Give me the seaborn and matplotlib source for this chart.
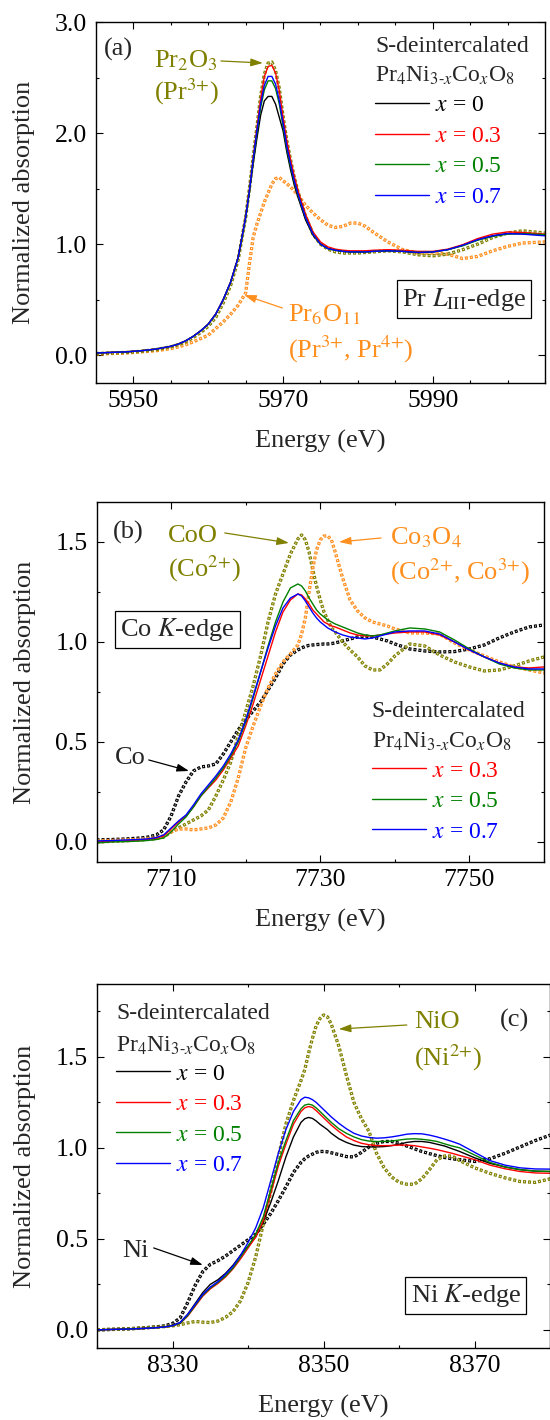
import numpy as np
import pandas as pd
import seaborn as sns
import matplotlib.pyplot as plt
from matplotlib.ticker import MultipleLocator, FormatStrFormatter

# ---------------- data ----------------
# (a) Pr L_III-edge
E_PR = [5945, 5947, 5949, 5951, 5953, 5955, 5956, 5957, 5958, 5959,
        5960, 5961, 5962, 5963, 5964, 5965, 5965.5, 5966, 5966.5, 5967,
        5967.5, 5968, 5968.5, 5969, 5969.5, 5970, 5970.5, 5971, 5971.5, 5972,
        5973, 5974, 5975, 5976, 5977, 5978, 5979, 5980, 5981, 5982,
        5984, 5986, 5988, 5990, 5992, 5994, 5996, 5998, 6000, 6002,
        6005]
PR_X0 = [0.02, 0.025, 0.03, 0.04, 0.055, 0.08, 0.10, 0.13, 0.17, 0.22,
         0.28, 0.37, 0.50, 0.66, 0.88, 1.24, 1.47, 1.72, 1.95, 2.16,
         2.29, 2.33, 2.33, 2.26, 2.14, 2.02, 1.83, 1.67, 1.53, 1.42,
         1.22, 1.08, 1.00, 0.96, 0.945, 0.935, 0.93, 0.93, 0.93, 0.935,
         0.94, 0.935, 0.925, 0.93, 0.95, 0.99, 1.04, 1.075, 1.095, 1.095,
         1.08]
PR_X03 = [0.02, 0.025, 0.03, 0.04, 0.055, 0.08, 0.10, 0.13, 0.17, 0.22,
          0.28, 0.37, 0.50, 0.66, 0.88, 1.25, 1.49, 1.77, 2.04, 2.31,
          2.51, 2.60, 2.61, 2.54, 2.38, 2.14, 1.93, 1.76, 1.61, 1.48,
          1.27, 1.11, 1.02, 0.975, 0.955, 0.945, 0.94, 0.94, 0.94, 0.945,
          0.95, 0.945, 0.935, 0.935, 0.955, 0.995, 1.05, 1.09, 1.11, 1.105,
          1.09]
PR_X05 = [0.02, 0.025, 0.03, 0.04, 0.055, 0.08, 0.10, 0.13, 0.17, 0.22,
          0.28, 0.37, 0.50, 0.66, 0.88, 1.24, 1.48, 1.75, 2.00, 2.23,
          2.39, 2.47, 2.47, 2.40, 2.26, 2.06, 1.86, 1.70, 1.56, 1.44,
          1.24, 1.09, 1.00, 0.96, 0.945, 0.935, 0.93, 0.93, 0.93, 0.935,
          0.94, 0.935, 0.925, 0.93, 0.95, 0.985, 1.035, 1.07, 1.09, 1.095,
          1.085]
PR_X07 = [0.02, 0.025, 0.03, 0.04, 0.055, 0.08, 0.10, 0.13, 0.17, 0.22,
          0.28, 0.37, 0.50, 0.66, 0.88, 1.24, 1.48, 1.76, 2.02, 2.26,
          2.43, 2.51, 2.51, 2.44, 2.29, 2.09, 1.88, 1.72, 1.57, 1.45,
          1.24, 1.09, 1.00, 0.96, 0.945, 0.935, 0.93, 0.93, 0.93, 0.935,
          0.94, 0.935, 0.925, 0.93, 0.95, 0.99, 1.04, 1.075, 1.095, 1.09,
          1.075]
PR2O3 = [0.015, 0.02, 0.025, 0.035, 0.05, 0.075, 0.095, 0.12, 0.16, 0.205,
         0.26, 0.34, 0.47, 0.63, 0.86, 1.24, 1.50, 1.78, 2.05, 2.33,
         2.53, 2.63, 2.64, 2.56, 2.40, 2.15, 1.93, 1.76, 1.60, 1.47,
         1.25, 1.09, 1.00, 0.955, 0.93, 0.92, 0.92, 0.92, 0.925, 0.93,
         0.94, 0.93, 0.905, 0.895, 0.91, 0.95, 1.00, 1.06, 1.10, 1.12,
         1.10]
PR6O11 = [0.01, 0.015, 0.02, 0.03, 0.04, 0.06, 0.075, 0.095, 0.12, 0.15,
          0.18, 0.24, 0.30, 0.37, 0.45, 0.56, 0.82, 1.06, 1.18, 1.28,
          1.38, 1.46, 1.54, 1.59, 1.60, 1.57, 1.545, 1.515, 1.48, 1.44,
          1.35, 1.28, 1.22, 1.17, 1.15, 1.16, 1.19, 1.19, 1.16, 1.11,
          1.02, 0.95, 0.92, 0.92, 0.91, 0.87, 0.89, 0.94, 0.98, 1.01,
          1.02]

# (b) Co K-edge
E_CO = [7700, 7702, 7704, 7706, 7707, 7708, 7709, 7710, 7711, 7712,
        7713, 7714, 7715, 7716, 7717, 7718, 7719, 7720, 7721, 7722,
        7723, 7724, 7725, 7726, 7727, 7727.5, 7728, 7728.5, 7729, 7729.5,
        7730, 7730.5, 7731, 7731.5, 7732, 7733, 7734, 7735, 7736, 7737,
        7738, 7739, 7740, 7742, 7744, 7746, 7748, 7750, 7752, 7754,
        7756, 7758, 7760]
CO_METAL = [0.01, 0.012, 0.015, 0.02, 0.025, 0.035, 0.06, 0.13, 0.23, 0.30,
            0.355, 0.375, 0.38, 0.39, 0.44, 0.50, 0.56, 0.61, 0.655, 0.70,
            0.76, 0.82, 0.89, 0.935, 0.96, 0.97, 0.978, 0.983, 0.985, 0.987,
            0.988, 0.99, 0.99, 0.992, 0.995, 1.005, 1.015, 1.025, 1.03, 1.025,
            1.015, 1.005, 0.99, 0.965, 0.955, 0.95, 0.952, 0.965, 0.985, 1.02,
            1.05, 1.075, 1.085]
COO = [0.0, 0.003, 0.006, 0.01, 0.013, 0.017, 0.025, 0.05, 0.07, 0.09,
       0.11, 0.13, 0.16, 0.23, 0.31, 0.40, 0.53, 0.65, 0.78, 0.93,
       1.10, 1.24, 1.34, 1.44, 1.515, 1.535, 1.51, 1.45, 1.36, 1.28,
       1.21, 1.15, 1.11, 1.07, 1.05, 1.00, 0.96, 0.925, 0.88, 0.86,
       0.86, 0.89, 0.93, 0.99, 0.98, 0.935, 0.90, 0.875, 0.855, 0.86,
       0.88, 0.905, 0.925]
CO3O4 = [0.005, 0.007, 0.01, 0.013, 0.016, 0.02, 0.03, 0.05, 0.065, 0.065,
         0.06, 0.065, 0.07, 0.085, 0.12, 0.20, 0.32, 0.47, 0.58, 0.68,
         0.77, 0.84, 0.90, 0.94, 0.985, 1.04, 1.12, 1.25, 1.37, 1.46,
         1.51, 1.53, 1.53, 1.51, 1.45, 1.32, 1.21, 1.155, 1.12, 1.10,
         1.09, 1.08, 1.065, 1.045, 1.045, 1.04, 0.995, 0.96, 0.93, 0.90,
         0.875, 0.86, 0.845]
CO_X03 = [0.0, 0.003, 0.006, 0.01, 0.013, 0.018, 0.03, 0.065, 0.10, 0.13,
          0.175, 0.23, 0.27, 0.31, 0.36, 0.42, 0.48, 0.58, 0.69, 0.81,
          0.93, 1.05, 1.15, 1.21, 1.24, 1.235, 1.215, 1.19, 1.16, 1.14,
          1.12, 1.10, 1.09, 1.08, 1.075, 1.06, 1.045, 1.035, 1.03, 1.03,
          1.035, 1.04, 1.045, 1.05, 1.05, 1.035, 1.0, 0.96, 0.925, 0.895,
          0.875, 0.87, 0.875]
CO_X05 = [-0.005, 0.0, 0.002, 0.005, 0.008, 0.012, 0.02, 0.05, 0.09, 0.125,
          0.175, 0.23, 0.275, 0.32, 0.37, 0.43, 0.50, 0.60, 0.72, 0.85,
          0.98, 1.10, 1.20, 1.27, 1.29, 1.28, 1.255, 1.22, 1.19, 1.16,
          1.14, 1.125, 1.11, 1.10, 1.09, 1.075, 1.06, 1.045, 1.035, 1.03,
          1.035, 1.045, 1.055, 1.07, 1.065, 1.05, 1.01, 0.965, 0.925, 0.89,
          0.87, 0.86, 0.86]
CO_X07 = [0.005, 0.007, 0.01, 0.013, 0.016, 0.022, 0.035, 0.07, 0.105, 0.135,
          0.185, 0.24, 0.285, 0.33, 0.38, 0.44, 0.51, 0.61, 0.73, 0.85,
          0.97, 1.08, 1.17, 1.22, 1.24, 1.23, 1.205, 1.175, 1.145, 1.12,
          1.10, 1.085, 1.07, 1.06, 1.05, 1.035, 1.025, 1.02, 1.015, 1.02,
          1.03, 1.04, 1.05, 1.055, 1.055, 1.04, 1.0, 0.96, 0.925, 0.895,
          0.875, 0.865, 0.865]

# (c) Ni K-edge
E_NI = [8320, 8322, 8324, 8326, 8328, 8329, 8330, 8331, 8332, 8333,
        8334, 8335, 8336, 8337, 8338, 8339, 8340, 8341, 8342, 8343,
        8344, 8345, 8346, 8347, 8347.5, 8348, 8348.5, 8349, 8349.5, 8350,
        8350.5, 8351, 8352, 8353, 8354, 8355, 8356, 8357, 8358, 8359,
        8360, 8361, 8362, 8363, 8364, 8365, 8366, 8367, 8368, 8370,
        8372, 8374, 8376, 8378, 8380]
NI_METAL = [0.0, 0.002, 0.005, 0.01, 0.017, 0.022, 0.035, 0.065, 0.15, 0.245,
            0.32, 0.36, 0.38, 0.405, 0.435, 0.465, 0.495, 0.525, 0.58, 0.64,
            0.71, 0.785, 0.865, 0.92, 0.94, 0.955, 0.965, 0.975, 0.98, 0.98,
            0.978, 0.973, 0.963, 0.952, 0.95, 0.975, 1.005, 1.025, 1.035, 1.035,
            1.025, 1.01, 0.995, 0.98, 0.968, 0.957, 0.947, 0.94, 0.935, 0.925,
            0.94, 0.97, 1.005, 1.04, 1.07]
NIO = [0.0, 0.003, 0.005, 0.01, 0.015, 0.018, 0.022, 0.028, 0.038, 0.046,
       0.042, 0.04, 0.048, 0.068, 0.10, 0.16, 0.26, 0.40, 0.58, 0.76,
       0.95, 1.13, 1.26, 1.37, 1.43, 1.52, 1.60, 1.67, 1.71, 1.73,
       1.72, 1.68, 1.56, 1.40, 1.25, 1.16, 1.09, 0.97, 0.89, 0.84,
       0.81, 0.80, 0.80, 0.83, 0.88, 0.935, 0.955, 0.955, 0.93, 0.89,
       0.86, 0.835, 0.815, 0.81, 0.83]
NI_X0 = [0.0, 0.002, 0.005, 0.008, 0.013, 0.017, 0.025, 0.04, 0.085, 0.145,
         0.205, 0.25, 0.275, 0.31, 0.355, 0.41, 0.46, 0.51, 0.595, 0.70,
         0.82, 0.95, 1.06, 1.14, 1.16, 1.167, 1.162, 1.148, 1.13, 1.115,
         1.10, 1.08, 1.05, 1.03, 1.015, 1.007, 1.005, 1.005, 1.007, 1.012,
         1.02, 1.03, 1.035, 1.035, 1.03, 1.02, 1.01, 0.995, 0.98, 0.945,
         0.915, 0.895, 0.88, 0.872, 0.87]
NI_X03 = [0.0, 0.002, 0.004, 0.007, 0.012, 0.016, 0.022, 0.035, 0.075, 0.13,
          0.185, 0.225, 0.255, 0.29, 0.335, 0.39, 0.45, 0.51, 0.60, 0.75,
          0.90, 1.02, 1.13, 1.20, 1.22, 1.227, 1.222, 1.205, 1.185, 1.165,
          1.145, 1.125, 1.09, 1.06, 1.04, 1.025, 1.017, 1.012, 1.012, 1.013,
          1.015, 1.015, 1.012, 1.005, 0.998, 0.99, 0.98, 0.97, 0.958, 0.935,
          0.905, 0.885, 0.87, 0.862, 0.86]
NI_X05 = [0.0, 0.002, 0.004, 0.007, 0.012, 0.016, 0.022, 0.036, 0.078, 0.135,
          0.19, 0.23, 0.26, 0.295, 0.34, 0.40, 0.46, 0.525, 0.62, 0.77,
          0.92, 1.04, 1.15, 1.215, 1.235, 1.24, 1.235, 1.22, 1.20, 1.18,
          1.16, 1.14, 1.105, 1.08, 1.06, 1.045, 1.037, 1.035, 1.035, 1.037,
          1.043, 1.048, 1.05, 1.047, 1.042, 1.035, 1.022, 1.01, 1.0, 0.96,
          0.92, 0.895, 0.88, 0.872, 0.87]
NI_X07 = [0.0, 0.002, 0.004, 0.007, 0.012, 0.016, 0.023, 0.04, 0.085, 0.14,
          0.195, 0.235, 0.265, 0.305, 0.35, 0.41, 0.48, 0.56, 0.67, 0.82,
          0.97, 1.10, 1.20, 1.265, 1.278, 1.275, 1.265, 1.25, 1.23, 1.21,
          1.19, 1.17, 1.135, 1.105, 1.08, 1.065, 1.057, 1.053, 1.055, 1.06,
          1.067, 1.075, 1.078, 1.077, 1.07, 1.06, 1.048, 1.035, 1.02, 0.975,
          0.93, 0.905, 0.89, 0.884, 0.883]

X_LABELS = [r'$x$ = 0', r'$x$ = 0.3', r'$x$ = 0.5', r'$x$ = 0.7']
FORMULA = r'Pr$_4$Ni$_{3\text{-}x}$Co$_x$O$_8$'

BLACK, RED, GREEN, BLUE = '#000000', '#ff0000', '#008000', '#0000ff'
OLIVE, ORANGE = '#808000', '#ff8f1f'

# ---------------- style ----------------
sns.set_style('ticks')
plt.rcParams['font.family'] = ['Liberation Serif', 'DejaVu Serif']
plt.rcParams['mathtext.fontset'] = 'stix'
plt.rcParams.update({
    'xtick.direction': 'in', 'ytick.direction': 'in',
    'xtick.top': True, 'ytick.right': True,
    'xtick.major.size': 5, 'ytick.major.size': 5,
    'xtick.minor.size': 2.5, 'ytick.minor.size': 2.5,
    'xtick.major.width': 0.8, 'ytick.major.width': 0.8,
    'xtick.minor.width': 0.8, 'ytick.minor.width': 0.8,
    'xtick.major.pad': 5, 'ytick.major.pad': 6.5,
    'xtick.labelsize': 18.5, 'ytick.labelsize': 18.5,
    'axes.linewidth': 1.0, 'axes.edgecolor': 'black',
    'xtick.color': 'black', 'ytick.color': 'black',
})

fig = plt.figure(figsize=(5.5, 14.2), dpi=100)
ax_a = fig.add_axes([0.1745, 0.7303, 0.8164, 0.2542])
ax_b = fig.add_axes([0.1755, 0.3930, 0.8136, 0.2535])
ax_c = fig.add_axes([0.1764, 0.0507, 0.8242, 0.2563])

LW_REF = 2.4
ON, OFF = 0.9, 0.6


def ref_curve(ax, e, v, color):
    # dense open squares: coloured dotted band with a white core
    sns.lineplot(x=e, y=v, ax=ax, color=color, lw=LW_REF, sort=False,
                 estimator=None, linestyle=(0, (ON, OFF)))
    wl = 0.7
    period = (ON + OFF) * LW_REF
    core = 0.7
    start = (ON * LW_REF - core) / 2
    sns.lineplot(x=e, y=v, ax=ax, color='white', lw=wl, sort=False,
                 estimator=None,
                 linestyle=((period - start) / wl, (core / wl, (period - core) / wl)))


def sample_curves(ax, e, series, colors):
    handles = []
    for v, c in zip(series, colors):
        sns.lineplot(x=e, y=v, ax=ax, color=c, lw=1.0, sort=False, estimator=None)
        handles.append(ax.lines[-1])
    return handles


def arrow(ax, tail, head, color):
    ax.annotate('', xy=head, xytext=tail,
                arrowprops=dict(arrowstyle='-|>,head_length=0.4,head_width=0.13',
                                color=color, lw=0.9, shrinkA=0, shrinkB=0,
                                mutation_scale=18))


def boxed(ax, x, y, s):
    ax.text(x, y, s, ha='center', va='center', fontsize=19,
            bbox=dict(boxstyle='square,pad=0.2', fc='white', ec='black', lw=0.9))


def legend_block(ax, handles, labels, hx, hy1, hy2, lx, ly):
    ax.text(hx, hy1, 'S-deintercalated', fontsize=17, ha='left', va='baseline')
    ax.text(hx, hy2, FORMULA, fontsize=17, ha='left', va='baseline')
    ax.legend(handles, labels, loc='upper left', bbox_to_anchor=(lx, ly),
              frameon=False, fontsize=17, handlelength=2.3, handletextpad=0.25,
              labelspacing=0.38, borderpad=0, borderaxespad=0,
              labelcolor='linecolor')


def frame(ax, xlim, ylim, xt, xminor, ymajor, yminor):
    ax.set_xlim(*xlim)
    ax.set_ylim(*ylim)
    ax.set_xticks(xt)
    ax.xaxis.set_minor_locator(MultipleLocator(xminor))
    ax.yaxis.set_major_locator(MultipleLocator(ymajor))
    ax.yaxis.set_minor_locator(MultipleLocator(yminor))
    ax.yaxis.set_major_formatter(FormatStrFormatter('%.1f'))
    ax.tick_params(which='both', top=True, right=True, direction='in')
    ax.set_xlabel('Energy (eV)', fontsize=19)
    ax.set_ylabel('Normalized absorption', fontsize=19)
    ax.xaxis.set_label_coords(0.5, -0.13)
    ax.yaxis.set_label_coords(-0.135, 0.5)


# ---------------- (a) Pr L_III ----------------
ref_curve(ax_a, E_PR, PR6O11, ORANGE)
ref_curve(ax_a, E_PR, PR2O3, OLIVE)
h = sample_curves(ax_a, E_PR, [PR_X0, PR_X03, PR_X05, PR_X07],
                  [BLACK, RED, GREEN, BLUE])
frame(ax_a, (5945, 6005), (-0.25, 3.0), [5950, 5970, 5990], 5, 1.0, 0.5)
ax_a.text(5946.1, 2.70, '(a)', fontsize=19, ha='left', va='baseline')
ax_a.text(5952.75, 2.595, r'Pr$_2$O$_3$', color=OLIVE, fontsize=19, va='baseline')
ax_a.text(5952.75, 2.30, r'(Pr$^{3\text{+}}$)', color=OLIVE, fontsize=19, va='baseline')
arrow(ax_a, (5961.7, 2.649), (5967.3, 2.631), OLIVE)
ax_a.text(5970.7, 0.30, r'Pr$_6$O$_{11}$', color=ORANGE, fontsize=19, va='baseline')
ax_a.text(5970.7, -0.02, r'(Pr$^{3\text{+}}$, Pr$^{4\text{+}}$)', color=ORANGE,
          fontsize=19, va='baseline')
arrow(ax_a, (5969.9, 0.425), (5964.8, 0.542), ORANGE)
boxed(ax_a, 5994.2, 0.506, r'Pr $L_{\mathrm{III}}$-edge')
legend_block(ax_a, h, X_LABELS, 5982.3, 2.73, 2.46, 0.621, 0.798)

# ---------------- (b) Co K ----------------
ref_curve(ax_b, E_CO, CO_METAL, BLACK)
ref_curve(ax_b, E_CO, COO, OLIVE)
ref_curve(ax_b, E_CO, CO3O4, ORANGE)
h = sample_curves(ax_b, E_CO, [CO_X03, CO_X05, CO_X07], [RED, GREEN, BLUE])
frame(ax_b, (7700, 7760), (-0.1, 1.7), [7710, 7730, 7750], 10, 0.5, 0.25)
ax_b.text(7702.2, 1.515, '(b)', fontsize=19, ha='left', va='baseline')
ax_b.text(7709.6, 1.50, 'CoO', color=OLIVE, fontsize=19, va='baseline')
ax_b.text(7709.6, 1.325, r'(Co$^{2\text{+}}$)', color=OLIVE, fontsize=19, va='baseline')
arrow(ax_b, (7717.2, 1.545), (7725.8, 1.495), OLIVE)
ax_b.text(7739.35, 1.49, r'Co$_3$O$_4$', color=ORANGE, fontsize=19, va='baseline')
ax_b.text(7739.35, 1.31, r'(Co$^{2\text{+}}$, Co$^{3\text{+}}$)', color=ORANGE,
          fontsize=19, va='baseline')
arrow(ax_b, (7738.15, 1.52), (7732.5, 1.50), ORANGE)
boxed(ax_b, 7710.9, 1.0625, r'Co $K$-edge')
ax_b.text(7702.5, 0.39, 'Co', fontsize=19, va='baseline')
arrow(ax_b, (7707.0, 0.41), (7712.4, 0.355), BLACK)
legend_block(ax_b, h, X_LABELS[1:], 7736.9, 0.625, 0.47, 0.616, 0.283)

# ---------------- (c) Ni K ----------------
ref_curve(ax_c, E_NI, NI_METAL, BLACK)
ref_curve(ax_c, E_NI, NIO, OLIVE)
h = sample_curves(ax_c, E_NI, [NI_X0, NI_X03, NI_X05, NI_X07],
                  [BLACK, RED, GREEN, BLUE])
frame(ax_c, (8320, 8380), (-0.1, 1.9), [8330, 8350, 8370], 10, 0.5, 0.25)
ax_c.text(8373.3, 1.664, '(c)', fontsize=19, ha='left', va='baseline')
ax_c.text(8362.0, 1.658, 'NiO', color=OLIVE, fontsize=19, va='baseline')
ax_c.text(8362.0, 1.455, r'(Ni$^{2\text{+}}$)', color=OLIVE, fontsize=19, va='baseline')
arrow(ax_c, (8361.0, 1.675), (8352.0, 1.653), OLIVE)
boxed(ax_c, 8368.8, 0.189, r'Ni $K$-edge')
ax_c.text(8323.4, 0.40, 'Ni', fontsize=19, va='baseline')
arrow(ax_c, (8327.5, 0.45), (8334.0, 0.356), BLACK)
legend_block(ax_c, h, X_LABELS, 8322.5, 1.708, 1.526, 0.042, 0.783)

fig.savefig('out.png', dpi=100)
